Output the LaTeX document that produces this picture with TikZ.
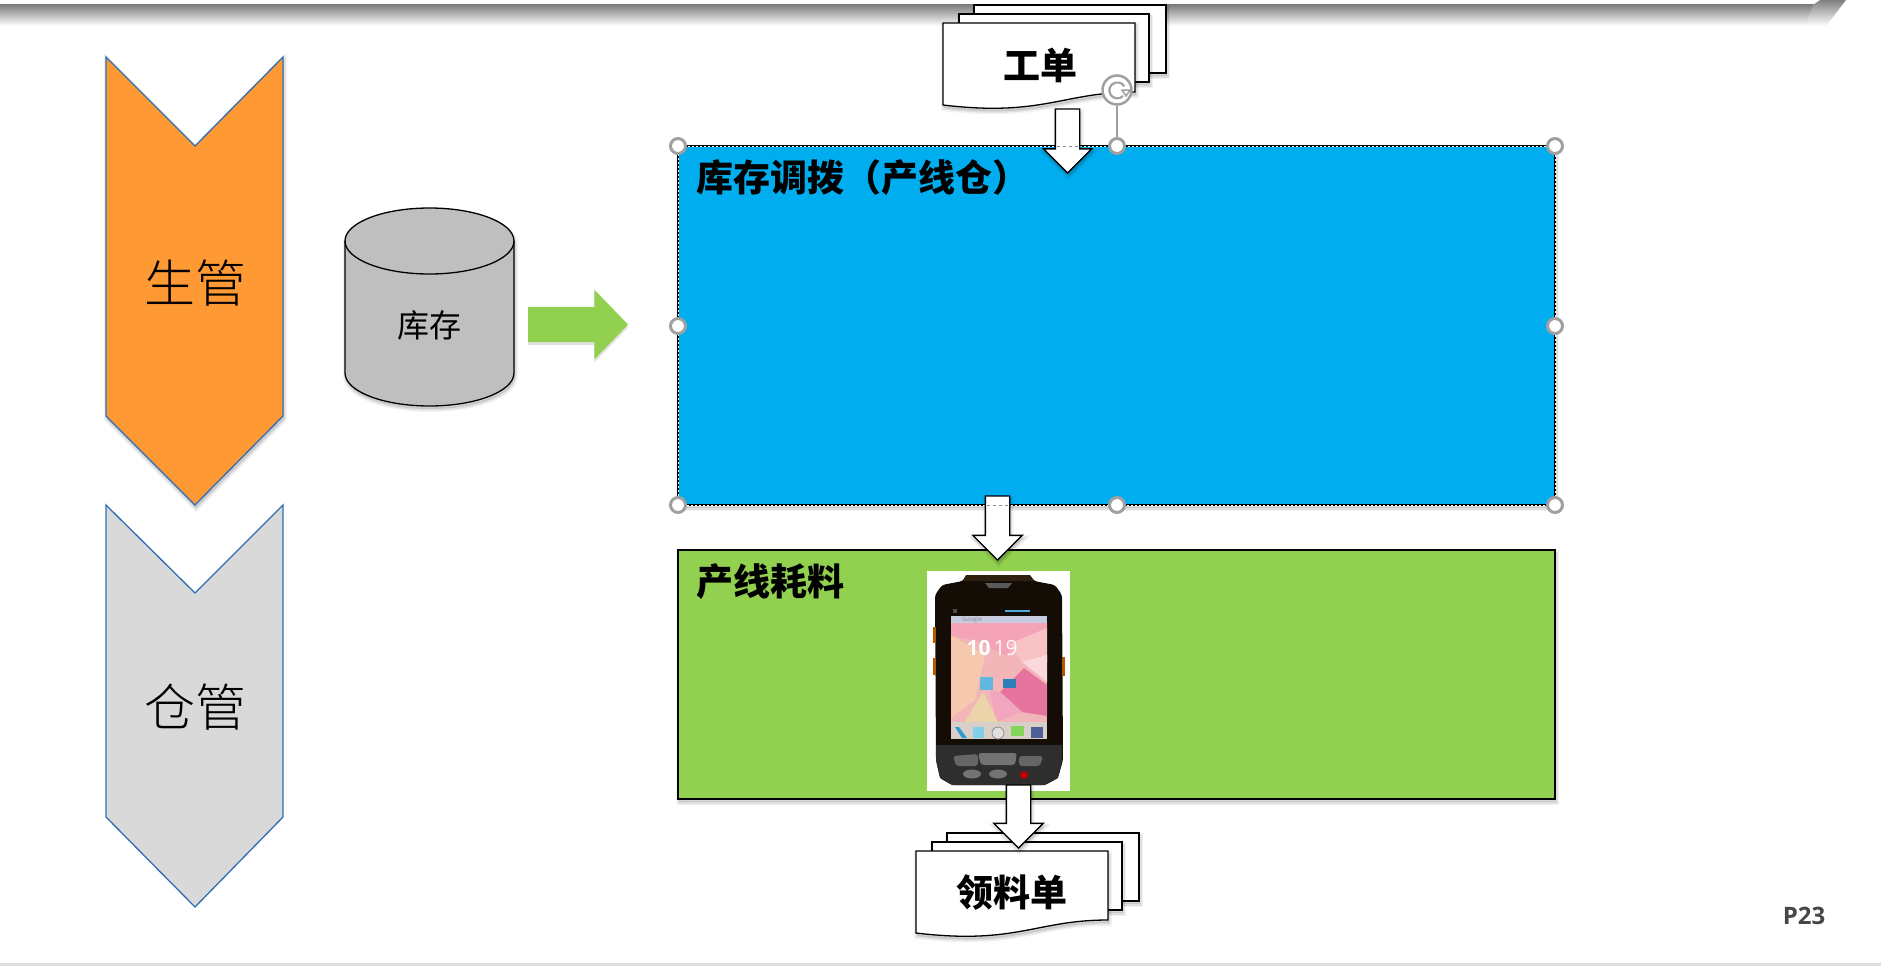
\documentclass[tikz,border=0pt]{standalone}
\usepackage{fontspec}
\usetikzlibrary{shapes.arrows}
\newfontfamily\cjk{Noto Sans CJK SC}
\newfontfamily\cjklight{Noto Sans CJK SC Light}
\newfontfamily\latinb{Open Sans}
\newcommand{\pxsize}[1]{\fontsize{#1}{#1}\selectfont}
\definecolor{chevblue}{HTML}{2F6DB5}
\definecolor{chevorange}{HTML}{FF9933}
\definecolor{chevgrey}{HTML}{D9D9D9}
\definecolor{cylgrey}{HTML}{BFBFBF}
\definecolor{boxblue}{HTML}{00AEEF}
\definecolor{boxgreen}{HTML}{92D050}
\definecolor{handlegrey}{HTML}{A0A0A0}
\tikzset{
  hx/.code={\definecolor{tmpc}{HTML}{#1}\tikzset{fill=tmpc}},
  softshadow/.style={
    preaction={transform canvas={xshift=1pt,yshift=-3pt},draw=black,draw opacity=.05,line width=6pt,fill=black,fill opacity=.1},
    preaction={transform canvas={xshift=1pt,yshift=-3pt},draw=black,draw opacity=.08,line width=3pt},
  },
  chevron/.style={draw=chevblue,line width=1.3pt,line join=miter},
  blockdown/.style={single arrow,shape border rotate=270,anchor=tip,draw=black,fill=white,line width=1.4pt,
    inner sep=11.5pt,outer sep=0pt,single arrow tip angle=90,softshadow},
  docsheet/.style={draw=black,fill=white,line width=1.3pt,softshadow},
  bigbox/.style={draw=black,line width=1.2pt,softshadow},
  handle/.style={circle,draw=handlegrey,fill=white,line width=3pt,minimum size=15pt,inner sep=0pt},
  doclabel/.style={font=\cjk\bfseries\pxsize{37},inner sep=0pt,text=black},
  boxlabel/.style={font=\cjk\bfseries\pxsize{37},inner sep=0pt,anchor=west,text=black},
  rolelabel/.style={font=\cjklight\pxsize{51},inner sep=0pt,text=black},
  docstack/.pic={
    \path[docsheet] (31,-18) rectangle (223,50);
    \path[docsheet] (16,-9) rectangle (206,59);
    \path[docsheet] (0,0) -- (192,0) -- (192,69) .. controls (120,69) and (100,94) .. (0,82) -- cycle;
  },
}
\begin{document}
\begin{tikzpicture}[x=1pt,y=-1pt]
\useasboundingbox (0,0) rectangle (1881,966);
% header band and footer rule
\shade[top color=black!50,bottom color=white] (0,5) rectangle (1818,26);
\shade[left color=black!50,right color=white,shading angle=0] (1813,5) -- (1820,0) -- (1846,0) -- (1826,26) -- (1805,26) -- cycle;
\fill[black!13] (0,963) rectangle (1881,966);
% chevrons
\path[chevron,fill=chevorange,softshadow] (106,57) -- (195,146) -- (283,57) -- (283,416) -- (195,505) -- (106,416) -- cycle;
\path[chevron,fill=chevgrey] (106,505) -- (195,593) -- (283,505) -- (283,817) -- (195,907) -- (106,817) -- cycle;
\node[rolelabel] (shengguan) at (195,283) {生管};
\node[rolelabel] (cangguan) at (195,707) {仓管};
% cylinder
\path[draw=black,fill=cylgrey,line width=1.3pt,softshadow] (345,241) arc[start angle=180,end angle=0,x radius=84.5,y radius=-33] -- (514,373) arc[start angle=0,end angle=-180,x radius=84.5,y radius=-33] -- cycle;
\draw[black,line width=1.3pt] (345,241) arc[start angle=180,end angle=360,x radius=84.5,y radius=-33];
\node[font=\cjk\pxsize{32},inner sep=0pt] (kucun) at (429,325) {库存};
% green arrow
\node[single arrow,anchor=tip,fill=boxgreen,inner sep=17.5pt,outer sep=0pt,minimum height=100pt,minimum width=69pt,
  single arrow head extend=17pt,single arrow tip angle=92,
  preaction={transform canvas={yshift=-3pt},fill=black,fill opacity=.12}] (greenarrow) at (628,324.5) {};
% blue box
\path[bigbox,fill=boxblue] (678,146) rectangle (1555,505);
\draw[white,line width=.8pt,dash pattern=on 2pt off 2pt] (678,146) rectangle (1555,505);
\node[boxlabel] (bluelabel) at (696,178) {库存调拨（产线仓）};
% green box
\path[bigbox,fill=boxgreen] (678,550) rectangle (1555,799);
\node[boxlabel] (greenlabel) at (696,582) {产线耗料};
% work-order stack and its arrow
\pic at (943,23) {docstack};
\node[doclabel] (gongdan) at (1040,65) {工单};
\node[blockdown,minimum height=64pt,minimum width=48pt,single arrow head extend=12pt] (arrowa) at (1067.5,173) {};
\draw[black!45,dashed,line width=.8pt] (1057,146) -- (1078,146);
% arrow between boxes
\node[blockdown,minimum height=64pt,minimum width=49pt,single arrow head extend=12.5pt] (arrowb) at (997.5,560) {};
\draw[black!45,dashed,line width=.8pt] (987,505) -- (1009,505);
% phone
\fill[white] (927,571) rectangle (1070,791);
\fill[rounded corners=3pt,black!90!brown] (963,581) -- (966,575) -- (1030,575) -- (1034,581) -- (1055,585) -- (1062,595) -- (1063,760) -- (1058,778) -- (1045,785) -- (952,785) -- (940,778) -- (936,760) -- (935,595) -- (942,585) -- cycle;
\fill[black!75!brown] (966,575) -- (1030,575) -- (1034,581) -- (963,581) -- cycle;
\fill[black!65] (985,583) -- (1012,583) -- (1008,588) -- (989,588) -- cycle;
\fill[orange!70!black] (933,627) rectangle (936,643);
\fill[orange!70!black] (933,658) rectangle (936,675);
\fill[orange!70!black] (1062,657) rectangle (1065,676);
\fill[hx=F3B6B8] (951,616) rectangle (1047,739);
\fill[hx=F6C8AE] (951,635) -- (985,655) -- (975,700) -- (951,718) -- cycle;
\fill[hx=F5A3B6] (951,623) -- (1047,623) -- (1047,628) -- (1005,655) -- (975,640) -- (951,636) -- cycle;
\fill[hx=F8C3C5] (1009,644) -- (1047,628) -- (1047,662) -- (1022,662) -- cycle;
\fill[hx=FBD8DC] (1022,662) -- (1047,655) -- (1047,682) -- cycle;
\fill[hx=E7749E] (1000,692) -- (1024,668) -- (1047,685) -- (1047,716) -- (1022,712) -- cycle;
\fill[hx=F2A6BE] (990,690) -- (1000,692) -- (1022,712) -- (996,722) -- cycle;
\fill[hx=EBD5A8] (983,692) -- (998,722) -- (965,722) -- cycle;
\fill[hx=D9CFC9] (951,722) rectangle (1047,739);
\fill[hx=C6CBE0] (951,616) rectangle (1047,623);
\fill[hx=5FB7DE] (980,677) rectangle (993,690);
\fill[hx=2C7FB8] (1003,679) rectangle (1016,688);
\fill[hx=2E9AD0] (955,727) -- (959,727) -- (967,738) -- (962,738) -- cycle;
\fill[hx=7FD0E8] (973,727) rectangle (984,738);
\draw[black!45,line width=.8pt,fill=black!12] (998,733) circle (6);
\fill[hx=84D45A] (1011,726) rectangle (1024,736);
\fill[hx=4E5F98] (1031,727) rectangle (1043,738);
\fill[black!70] (953,609) rectangle (957,613);
\fill[hx=4FA8D8] (1005,610) rectangle (1030,612);
\node[font=\latinb\bfseries\pxsize{21},text=white,inner sep=0pt] (clockh) at (978.5,648) {10};
\node[font=\latinb\pxsize{21},text=white!90!pink,inner sep=0pt] (clockm) at (1005.5,648) {19};
\node[font=\latinb\pxsize{6},text=black!45,inner sep=0pt] (googlebar) at (972,620) {Google};
\fill[black!82] (936,745) -- (1062,745) -- (1062,760) -- (1058,778) -- (1045,785) -- (952,785) -- (940,778) -- (936,760) -- cycle;
\fill[black!60,rounded corners=3pt] (953,756) -- (978,754) -- (978,766) -- (956,766) -- cycle;
\fill[black!55,rounded corners=3pt] (978,753) -- (1017,753) -- (1015,765) -- (981,765) -- cycle;
\fill[black!60,rounded corners=3pt] (1019,756) -- (1043,756) -- (1040,766) -- (1019,766) -- cycle;
\fill[black!55] (972,774) ellipse (9 and 4.5);
\fill[black!55] (998,774) ellipse (9 and 4.5);
\fill[red!75!black] (1024,775) circle (4);
% picking-list stack and its arrow
\pic at (916,851) {docstack};
\node[doclabel] (lingliao) at (1012,893) {领料单};
\node[blockdown,minimum height=63pt,minimum width=48pt,single arrow head extend=12.5pt] (arrowc) at (1018.5,848) {};
% selection handles
\node[handle] (h1) at (678,146) {};
\node[handle] (h2) at (1117,146) {};
\node[handle] (h3) at (1555,146) {};
\node[handle] (h4) at (678,326) {};
\node[handle] (h5) at (1555,326) {};
\node[handle] (h6) at (678,505) {};
\node[handle] (h7) at (1117,505) {};
\node[handle] (h8) at (1555,505) {};
\node[circle,draw=handlegrey,fill=white,line width=2.5pt,minimum size=29pt,inner sep=0pt] (rot) at (1117,90) {};
\draw[handlegrey,line width=2.2pt] (1123,96) arc[start angle=45,end angle=330,radius=8];
\draw[handlegrey,line width=1.5pt] (1122,90) -- (1130,90) -- (1126,96) -- cycle;
\draw[handlegrey,line width=1.5pt] (rot) -- (h2);
% page number
\node[font=\latinb\bfseries\pxsize{24},text=black!72,inner sep=0pt] (pageno) at (1804,916) {P23};
\end{tikzpicture}
\end{document}
